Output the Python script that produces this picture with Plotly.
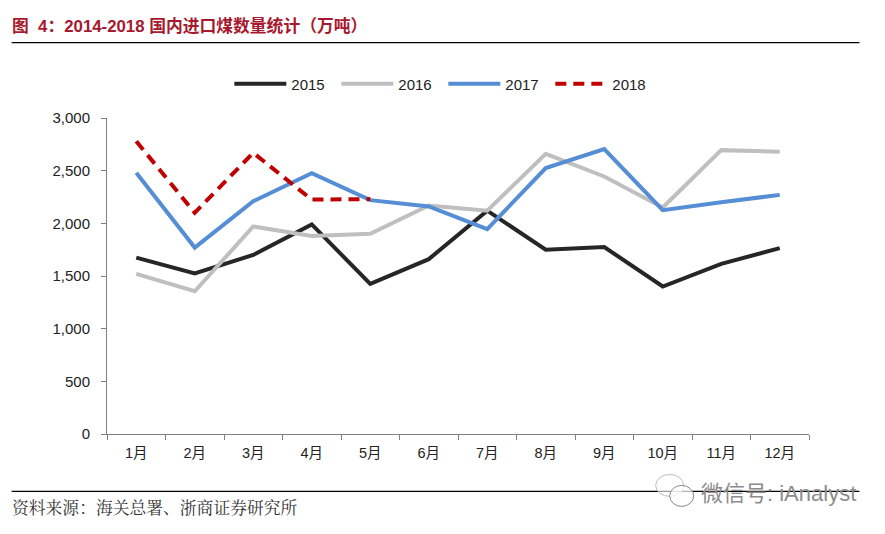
import plotly.graph_objects as go

months = ["1月","2月","3月","4月","5月","6月","7月","8月","9月","10月","11月","12月"]
v2015 = [1675,1525,1700,1990,1425,1660,2120,1750,1775,1400,1615,1765]
v2016 = [1520,1355,1970,1880,1900,2170,2120,2660,2445,2150,2695,2680]
v2017 = [2480,1770,2210,2475,2220,2160,1945,2525,2705,2125,2200,2270]
v2018 = [2780,2100,2670,2225,2230]
yticks = [0,500,1000,1500,2000,2500,3000]

W, H = 885, 534
FONT = "Liberation Sans, Arial, Noto Sans CJK SC, sans-serif"
L, R, T, B = 106.5, 809.5, 118, 434.5

fig = go.Figure()
for name, vals, col, dash in [("2015", v2015, "#262626", "solid"),
                              ("2016", v2016, "#BFBFBF", "solid"),
                              ("2017", v2017, "#558ED5", "solid"),
                              ("2018", v2018, "#C00000", "dash")]:
    fig.add_trace(go.Scatter(x=months[:len(vals)], y=vals, name=name, mode="lines",
                             line=dict(color=col, width=4, dash=dash if dash == "solid" else "11px,7px")))

def px(x): return (x - L) / (R - L)
def py(y): return (B - y) / (B - T)

shapes = [
    dict(type="line", xref="paper", yref="paper", x0=px(11), x1=px(860), y0=py(42.5), y1=py(42.5), line=dict(color="#000", width=1.3)),
    dict(type="line", xref="paper", yref="paper", x0=px(11), x1=px(860), y0=py(492), y1=py(492), line=dict(color="#000", width=1.3)),
    dict(type="circle", xref="paper", yref="paper", x0=px(656), x1=px(684), y0=py(497), y1=py(475), line=dict(color="#BDBDBD", width=1), fillcolor="rgba(255,255,255,0.6)"),
    dict(type="circle", xref="paper", yref="paper", x0=px(670), x1=px(694), y0=py(507), y1=py(486), line=dict(color="#8A8A8A", width=1), fillcolor="rgba(255,255,255,0.7)"),
]
annotations = [
    dict(text="图  4：2014-2018 国内进口煤数量统计（万吨）", x=px(9), y=py(26), xref="paper", yref="paper",
         xanchor="left", yanchor="middle", showarrow=False, font=dict(family=FONT, size=16.8, color="#A6192E", weight="bold")),
    dict(text="资料来源：海关总署、浙商证券研究所", x=px(9), y=py(508), xref="paper", yref="paper",
         xanchor="left", yanchor="middle", showarrow=False, font=dict(family="Noto Serif CJK SC, Noto Sans CJK SC, sans-serif", size=16.8, color="#333333")),
    dict(text="微信号: iAnalyst", x=px(699), y=py(494), xref="paper", yref="paper",
         xanchor="left", yanchor="middle", showarrow=False, font=dict(family=FONT, size=22, color="#8C8C8C")),
]

fig.update_layout(
    width=W, height=H, autosize=False, paper_bgcolor="white", plot_bgcolor="white",
    margin=dict(l=L, r=W-R, t=T, b=H-B),
    font=dict(family=FONT, size=15, color="#222222"),
    shapes=shapes, annotations=annotations, hovermode=False,
    legend=dict(orientation="h", x=px(229), y=py(84), xanchor="left", yanchor="middle",
                itemwidth=52, font=dict(size=15, color="#222222"), bgcolor="rgba(0,0,0,0)",
                entrywidth=40, entrywidthmode="pixels"),
    xaxis=dict(type="category", categoryorder="array", categoryarray=months, range=[-0.5, 11.5],
               tickson="boundaries", ticks="outside", ticklen=5, tickcolor="#808080", tickwidth=1,
               showline=True, linecolor="#808080", linewidth=1, showgrid=False, zeroline=False,
               ticklabelstandoff=6, tickfont=dict(size=14.5)),
    yaxis=dict(range=[0, 3000], tickvals=yticks, tickformat=",d", ticks="outside", ticklen=5,
               tickcolor="#808080", tickwidth=1, showline=True, linecolor="#808080", linewidth=1,
               showgrid=False, zeroline=False, ticklabelstandoff=8, tickfont=dict(size=15)),
)
fig.write_html("out.html", config=dict(displayModeBar=False), post_script="document.body.style.margin='0';")
